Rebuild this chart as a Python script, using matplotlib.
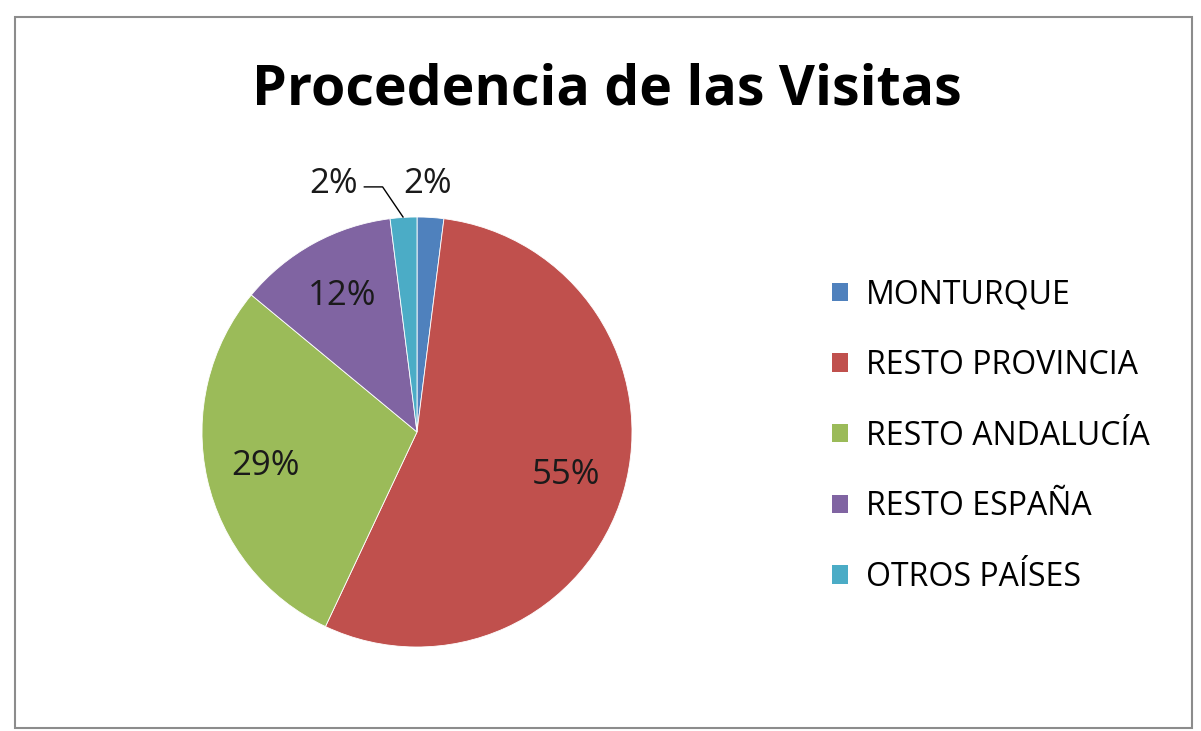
import numpy as np
import matplotlib.pyplot as plt
from matplotlib.patches import Rectangle

# Data
categories = ["MONTURQUE", "RESTO PROVINCIA", "RESTO ANDALUCÍA", "RESTO ESPAÑA", "OTROS PAÍSES"]
values = [2, 55, 29, 12, 2]
colors = ["#4F81BD", "#C0504D", "#9BBB59", "#8064A2", "#4BACC6"]
title = "Procedencia de las Visitas"

plt.rcParams['font.family'] = ['Open Sans', 'DejaVu Sans']

W, H = 1201, 731
fig = plt.figure(figsize=(W / 100, H / 100), dpi=100)
fig.patch.set_facecolor("white")

# chart frame
fig.patches.append(Rectangle((15 / W, 3 / H), 1177 / W, 711 / H, transform=fig.transFigure,
                             fill=False, edgecolor="#8c8c8c", linewidth=1.5))

fig.text(607 / W, 1 - 90 / H, title, ha="center", va="center",
         fontsize=40, fontweight="bold", color="black")

# pie: center (417, 432), radius 215 px
cx, cy, r = 417, 432, 215
ax = fig.add_axes([(cx - r) / W, (H - cy - r) / H, 2 * r / W, 2 * r / H])
wedges, texts = ax.pie(values, colors=colors, startangle=90, counterclock=False,
                       wedgeprops=dict(edgecolor="white", linewidth=0.6))
ax.set_xlim(-1, 1)
ax.set_ylim(-1, 1)
ax.set_aspect("equal")
ax.axis("off")

lbl = dict(fontsize=25, color="#1a1a1a", ha="center", va="center")

# inside labels
for v, w in zip(values, wedges):
    mid = np.deg2rad((w.theta1 + w.theta2) / 2)
    if v >= 5:
        ax.text(0.72 * np.cos(mid), 0.72 * np.sin(mid), f"{v}%", **lbl)

# outside labels for the two small slices
ax.text(0.05, 1.155, f"{values[0]}%", clip_on=False, **lbl)
ax.text(-0.39, 1.155, f"{values[4]}%", clip_on=False, **lbl)
ax.plot([-0.245, -0.16, -0.065], [1.14, 1.14, 1.0], color="black", linewidth=1, clip_on=False)

# legend
leg = fig.legend(wedges, categories, loc="center left", bbox_to_anchor=(832 / W, 1 - 436 / H),
                 frameon=False, fontsize=23, handlelength=0.5, handleheight=0.5,
                 handletextpad=0.55, labelspacing=1.18, borderaxespad=0, borderpad=0)
for h in leg.legend_handles:
    h.set_edgecolor("none")

fig.savefig("out.png", dpi=100)
